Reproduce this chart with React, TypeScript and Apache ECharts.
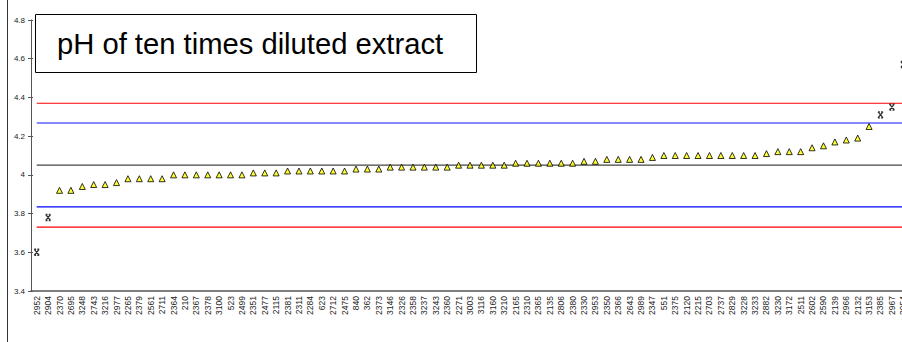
import React, { useEffect, useRef } from "react";
import * as echarts from "echarts";

const categories = [
  "2952", "2904", "2370", "2695", "3248", "2743", "3216", "2977", "2265", "2379",
  "2561", "2711", "2364", "210", "2367", "2378", "3100", "523", "2499", "2351",
  "2477", "2115", "2381", "2311", "2284", "623", "2712", "2475", "840", "362",
  "2373", "3146", "2326", "2358", "3237", "3243", "2360", "2271", "3003", "3116",
  "3160", "3210", "2165", "2310", "2365", "2135", "2806", "2380", "2330", "2953",
  "2350", "2366", "2643", "2989", "2347", "551", "2375", "2120", "2215", "2703",
  "2737", "2829", "3228", "3233", "2882", "3230", "3172", "2511", "2602", "2590",
  "2139", "2966", "2132", "3153", "2385", "2967", "2954",
];

const phValues = [
  3.6, 3.78, 3.92, 3.92, 3.94, 3.95, 3.95, 3.96, 3.98, 3.98,
  3.98, 3.98, 4.0, 4.0, 4.0, 4.0, 4.0, 4.0, 4.0, 4.01,
  4.01, 4.01, 4.02, 4.02, 4.02, 4.02, 4.02, 4.02, 4.03, 4.03,
  4.03, 4.04, 4.04, 4.04, 4.04, 4.04, 4.04, 4.05, 4.05, 4.05,
  4.05, 4.05, 4.06, 4.06, 4.06, 4.06, 4.06, 4.06, 4.07, 4.07,
  4.08, 4.08, 4.08, 4.08, 4.09, 4.1, 4.1, 4.1, 4.1, 4.1,
  4.1, 4.1, 4.1, 4.1, 4.11, 4.12, 4.12, 4.12, 4.14, 4.15,
  4.17, 4.18, 4.19, 4.25, 4.31, 4.35, 4.57,
];

const assignedValue = 4.05;
const warningLimits = [3.835, 4.268];
const actionLimits = [3.73, 4.37];

const yTicks = { min: 3.4, max: 4.8, interval: 0.2 };
const titleText = "pH of ten times diluted extract";

const isOutlier = (v: number) => v < warningLimits[0] || v > warningLimits[1];

export default function App() {
  const ref = useRef<HTMLDivElement>(null);

  useEffect(() => {
    if (!ref.current) return;
    const chart = echarts.init(ref.current, null, { renderer: "svg" });

    const limitLines = [
      { name: "upperAction", value: actionLimits[1], color: "rgb(255,0,0)" },
      { name: "upperWarning", value: warningLimits[1], color: "rgb(20,20,255)" },
      { name: "assigned", value: assignedValue, color: "rgb(68,68,68)" },
      { name: "lowerWarning", value: warningLimits[0], color: "rgb(0,0,255)" },
      { name: "lowerAction", value: actionLimits[0], color: "rgb(255,0,0)" },
    ];

    const lineSeries = limitLines.map((l) => ({
      name: l.name,
      type: "line",
      data: categories.map(() => l.value),
      showSymbol: false,
      symbol: "none",
      silent: true,
      itemStyle: { color: l.color },
      lineStyle: { color: l.color, width: 1.2, opacity: 1 },
      z: 1,
    }));

    chart.setOption({
      animation: false,
      backgroundColor: "#fff",
      color: limitLines.map((l) => l.color),
      grid: { left: 31, right: 0, top: 20, bottom: 51, containLabel: false },
      xAxis: {
        type: "category",
        data: categories,
        boundaryGap: true,
        axisLine: { show: true, lineStyle: { color: "#555", width: 1.5 } },
        axisTick: { show: false },
        axisLabel: {
          rotate: 90,
          interval: 0,
          fontSize: 8.5,
          color: "#222",
          margin: 5,
          fontFamily: "Liberation Sans, Arial, sans-serif",
        },
        splitLine: { show: false },
      },
      yAxis: [
        {
          type: "value",
          min: yTicks.min,
          max: yTicks.max,
          interval: yTicks.interval,
          axisLine: { show: true, lineStyle: { color: "#555", width: 1 } },
          axisTick: { show: true, length: 3, lineStyle: { color: "#555" } },
          axisLabel: {
            fontSize: 8,
            color: "#222",
            margin: 6,
            fontFamily: "Liberation Sans, Arial, sans-serif",
            formatter: (v: number) => String(+v.toFixed(1)),
          },
          splitLine: { show: false },
        },
        {
          type: "value",
          min: yTicks.min,
          max: yTicks.max,
          interval: yTicks.interval,
          position: "left",
          axisLine: { show: false },
          axisTick: { show: true, inside: true, length: 2, lineStyle: { color: "#555" } },
          axisLabel: { show: false },
          splitLine: { show: false },
        },
      ],
      series: [
        ...lineSeries,
        {
          name: "results",
          type: "scatter",
          data: phValues.map((v) => (isOutlier(v) ? "-" : v)),
          symbol: "triangle",
          symbolSize: [6, 6],
          itemStyle: { color: "#ffff00", borderColor: "#000", borderWidth: 1 },
          z: 3,
        },
        {
          name: "outliers",
          type: "scatter",
          data: phValues.map((v) => (isOutlier(v) ? v : "-")),
          symbol: "path://M0 0L8 8M8 0L0 8M0 0H3M5 0H8M0 8H3M5 8H8",
          symbolSize: [5, 6],
          itemStyle: { color: "#000", borderColor: "#000", borderWidth: 1.3 },
          z: 3,
        },
      ],
      graphic: [
        {
          type: "line",
          shape: { x1: 7.5, y1: 0, x2: 7.5, y2: 342 },
          style: { stroke: "#333", lineWidth: 1 },
          z: 10,
        },
        {
          type: "rect",
          shape: { x: 35.5, y: 14.5, width: 441, height: 58 },
          style: { fill: "#fff", stroke: "#000", lineWidth: 1 },
          z: 10,
        },
        {
          type: "text",
          x: 57,
          y: 44,
          style: {
            text: titleText,
            fontSize: 29.2,
            fontFamily: "Liberation Sans, Arial, sans-serif",
            fill: "#000",
            verticalAlign: "middle",
            align: "left",
          },
          z: 11,
        },
      ],
    });

    return () => chart.dispose();
  }, []);

  return (
    <div
      style={{
        position: "fixed",
        left: 0,
        top: 0,
        width: 902,
        height: 342,
        overflow: "hidden",
        background: "#fff",
      }}
    >
      <div ref={ref} style={{ width: 909, height: 342 }} />
    </div>
  );
}
